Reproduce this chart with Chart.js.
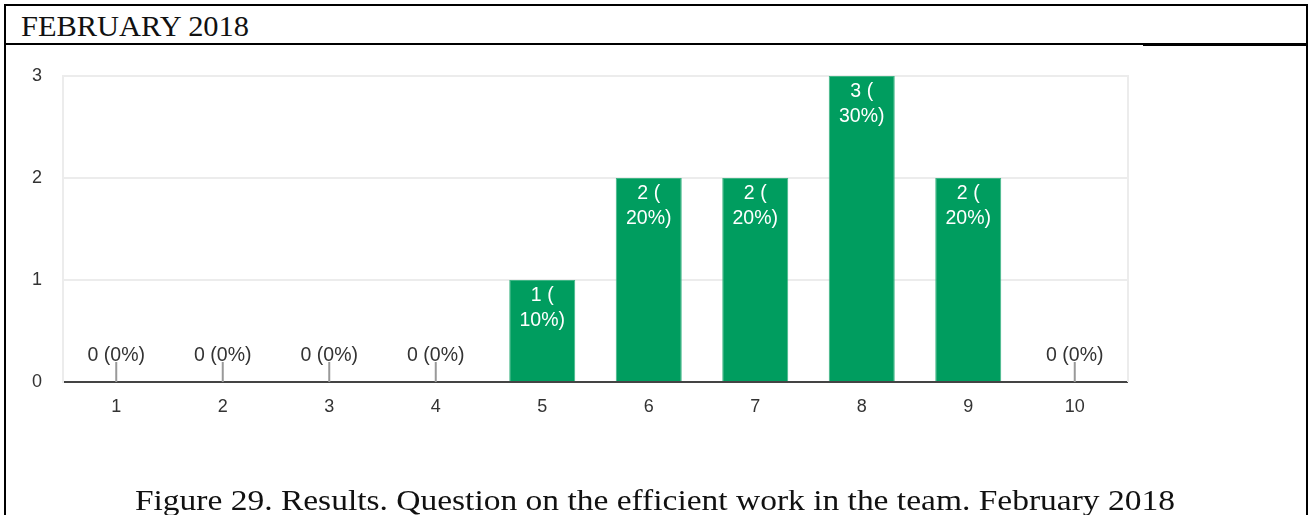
<!DOCTYPE html>
<html>
<head>
<meta charset="utf-8">
<script src="https://cdn.jsdelivr.net/npm/chart.js@4.4.1/dist/chart.umd.min.js"></script>
<style>
  html, body { margin: 0; padding: 0; background: #fff; width: 1309px; height: 515px; overflow: hidden; }
  .rule { position: absolute; background: #000; }
  .serif { position: absolute; font-family: "Liberation Serif", "Times New Roman", serif; color: #111; white-space: nowrap; font-size: 30px; line-height: 34px; }
  .serif span { display: inline-block; }
  #title { left: 21px; top: 9px; }
  #title span { transform-origin: 0 50%; }
  #caption { left: 0; top: 483px; width: 1309px; text-align: center; }
  #caption span { transform-origin: 50% 50%; }
  #wrap { position: absolute; left: 0; top: 0; width: 1309px; height: 515px; }
</style>
</head>
<body>
<div class="rule" style="left:4px;top:4px;width:1304px;height:2px"></div>
<div class="rule" style="left:4px;top:4px;width:2px;height:511px"></div>
<div class="rule" style="left:1306px;top:4px;width:2px;height:511px"></div>
<div class="rule" style="left:4px;top:43px;width:1139px;height:2px"></div>
<div class="rule" style="left:1143px;top:43px;width:165px;height:3px"></div>
<div id="title" class="serif"><span>FEBRUARY 2018</span></div>
<div id="wrap"><canvas id="chart"></canvas></div>
<div id="caption" class="serif"><span>Figure 29. Results. Question on the efficient work in the team. February 2018</span></div>

<script>
// Answer scale (1–10) and number of responses for each score
const categories = ['1', '2', '3', '4', '5', '6', '7', '8', '9', '10'];
const counts = [0, 0, 0, 0, 1, 2, 2, 3, 2, 0];
const yTicks = [0, 1, 2, 3];
const total = counts.reduce((a, b) => a + b, 0);

const GREEN = '#009d5f';
const SANS = '"Liberation Sans", Arial, sans-serif';
const LABEL_FONT = '19.5px ' + SANS;

// Fit the heading and caption text to their set widths
function fitWidth(sel, target) {
  const span = document.querySelector(sel);
  const w = span.getBoundingClientRect().width;
  span.style.transform = 'scaleX(' + (target / w) + ')';
}
fitWidth('#title span', 228);
fitWidth('#caption span', 1040);

// Light frame on the right edge of the plot area
const plotFrame = {
  id: 'plotFrame',
  beforeDatasetsDraw(chart) {
    const { ctx, chartArea: a } = chart;
    ctx.save();
    ctx.strokeStyle = '#ececec';
    ctx.lineWidth = 2;
    ctx.beginPath();
    ctx.moveTo(a.right, a.top - 1);
    ctx.lineTo(a.right, a.bottom);
    ctx.stroke();
    ctx.restore();
  }
};

// Count and share labels: inside the bar, or above a short stub for empty scores
const valueLabels = {
  id: 'valueLabels',
  afterDatasetsDraw(chart) {
    const ctx = chart.ctx;
    const meta = chart.getDatasetMeta(0);
    const y0 = chart.scales.y.getPixelForValue(0);
    ctx.save();
    ctx.font = LABEL_FONT;
    ctx.textAlign = 'center';
    meta.data.forEach((bar, i) => {
      const v = counts[i];
      const pct = Math.round(v / total * 100);
      if (v === 0) {
        ctx.strokeStyle = '#999';
        ctx.lineWidth = 2;
        ctx.beginPath();
        ctx.moveTo(bar.x, y0);
        ctx.lineTo(bar.x, y0 - 20);
        ctx.stroke();
        ctx.fillStyle = '#333';
        ctx.textBaseline = 'alphabetic';
        ctx.fillText(v + ' (' + pct + '%)', bar.x, y0 - 21);
      } else {
        ctx.fillStyle = '#fff';
        ctx.textBaseline = 'middle';
        ctx.fillText(v + ' (', bar.x, bar.y + 16);
        ctx.fillText(pct + '%)', bar.x, bar.y + 41);
      }
    });
    ctx.restore();
  }
};

new Chart(document.getElementById('chart'), {
  type: 'bar',
  data: {
    labels: categories,
    datasets: [{
      data: counts,
      backgroundColor: GREEN,
      borderColor: '#3fb585',
      borderWidth: 1,
      barPercentage: 0.62,
      categoryPercentage: 1.0
    }]
  },
  options: {
    responsive: true,
    maintainAspectRatio: false,
    animation: false,
    layout: { padding: { left: 0, top: 76, right: 181, bottom: 83 } },
    plugins: { legend: { display: false }, tooltip: { enabled: false }, title: { display: false } },
    scales: {
      x: {
        grid: { display: false, drawTicks: false },
        border: { display: false },
        ticks: {
          padding: 14,
          color: '#333',
          font: { family: SANS, size: 18 }
        },
        afterFit(scale) { scale.height = 50; }
      },
      y: {
        min: 0,
        max: 3,
        afterBuildTicks(scale) { scale.ticks = yTicks.map(v => ({ value: v })); },
        grid: {
          drawTicks: false,
          color: c => (c.tick && c.tick.value === 0) ? '#444' : '#ececec',
          lineWidth: 2
        },
        border: { display: true, color: '#ececec', width: 2 },
        ticks: {
          padding: 21,
          color: '#333',
          font: { family: SANS, size: 18 }
        },
        afterFit(scale) { scale.width = 63; }
      }
    }
  },
  plugins: [plotFrame, valueLabels]
});
</script>
</body>
</html>
